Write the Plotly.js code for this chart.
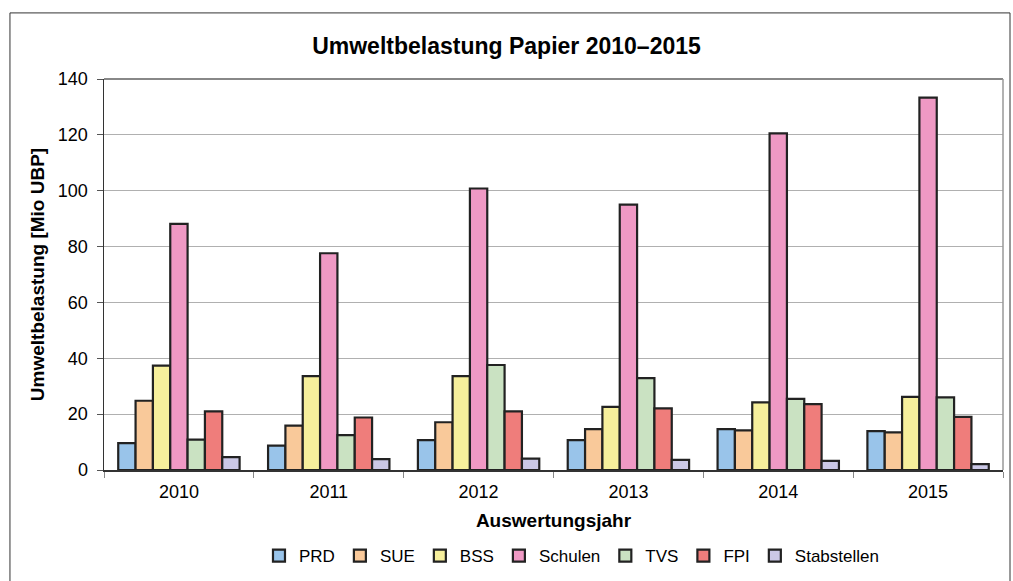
<!DOCTYPE html>
<html>
<head>
<meta charset="utf-8">
<script src="https://cdn.plot.ly/plotly-3.0.1.min.js"></script>
<style>
  html, body { margin: 0; padding: 0; background: #fff; }
  #chart { width: 1013px; height: 581px; }
</style>
</head>
<body>
<div id="chart"></div>
<script>
const years = ['2010', '2011', '2012', '2013', '2014', '2015'];
const PRD = [9.6, 8.7, 10.7, 10.7, 14.6, 13.9];
const SUE = [24.8, 15.9, 17.1, 14.6, 14.2, 13.5];
const BSS = [37.4, 33.6, 33.6, 22.6, 24.2, 26.2];
const Schulen = [88.1, 77.6, 100.8, 95.0, 120.5, 133.3];
const TVS = [10.9, 12.5, 37.6, 32.9, 25.5, 26.0];
const FPI = [21.0, 18.8, 21.0, 22.1, 23.6, 19.0];
const Stabstellen = [4.6, 3.9, 4.1, 3.6, 3.3, 2.1];
const seriesNames = ['PRD', 'SUE', 'BSS', 'Schulen', 'TVS', 'FPI', 'Stabstellen'];
const seriesValues = [PRD, SUE, BSS, Schulen, TVS, FPI, Stabstellen];
const colors = ['#99c4ea', '#f9c99a', '#f6ef9c', '#ef99c4', '#cae2c2', '#ef7d7b', '#cbc8e6'];

const font = 'Liberation Sans, Arial, sans-serif';

const traces = seriesNames.map((n, i) => ({
  type: 'bar',
  name: n,
  x: years,
  y: seriesValues[i],
  marker: { color: colors[i], line: { color: '#222222', width: 2.2 } }
}));

const layout = {
  width: 1013, height: 581,
  margin: { l: 104, r: 10, t: 79, b: 111, autoexpand: false },
  paper_bgcolor: '#ffffff', plot_bgcolor: '#ffffff',
  font: { family: font, size: 18, color: '#000' },
  barmode: 'group', bargap: 0.19, bargroupgap: 0,
  showlegend: true,
  title: { text: '<b>Umweltbelastung Papier 2010–2015</b>', font: { family: font, size: 23, color: '#000' }, x: 0.5, xanchor: 'center', y: 0.921, yanchor: 'middle', yref: 'container' },
  xaxis: {
    type: 'category', automargin: false,
    tickson: 'boundaries', ticks: 'outside', ticklen: 6, tickcolor: '#888',
    ticklabelstandoff: 5,
    showline: true, linecolor: '#333', linewidth: 1.5, mirror: false,
    showgrid: false, zeroline: false,
    tickfont: { family: font, size: 18 },
    title: { text: '<b>Auswertungsjahr</b>', font: { family: font, size: 19 }, standoff: 12 }
  },
  yaxis: {
    range: [0, 140], dtick: 20, tickmode: 'linear', automargin: false,
    ticks: 'outside', ticklen: 6, tickcolor: '#555',
    ticklabelstandoff: 5,
    showline: true, linecolor: '#333', linewidth: 1.5,
    showgrid: true, gridcolor: '#b0b0b0', gridwidth: 1,
    zeroline: false,
    tickfont: { family: font, size: 18 },
    title: { text: '<b>Umweltbelastung [Mio UBP]</b>', font: { family: font, size: 19 }, standoff: 8 }
  },
  legend: {
    orientation: 'h', x: 0.52, xanchor: 'center', y: -0.22, yanchor: 'middle',
    font: { family: font, size: 17 }, itemwidth: 30, traceorder: 'normal'
  },
  shapes: [
    { type: 'line', xref: 'paper', yref: 'paper', x0: 0, x1: 1, y0: 1, y1: 1, line: { color: '#888', width: 2 } },
    { type: 'line', xref: 'paper', yref: 'paper', x0: 1, x1: 1, y0: 0, y1: 1, line: { color: '#999', width: 1.5 } },
    { type: 'rect', xref: 'paper', yref: 'paper', x0: -0.1046, x1: 1.0078, y0: -0.4, y1: 1.169, line: { color: '#333', width: 1 }, fillcolor: 'rgba(0,0,0,0)' }
  ]
};

Plotly.newPlot('chart', traces, layout, { displayModeBar: false, staticPlot: true });
</script>
</body>
</html>
